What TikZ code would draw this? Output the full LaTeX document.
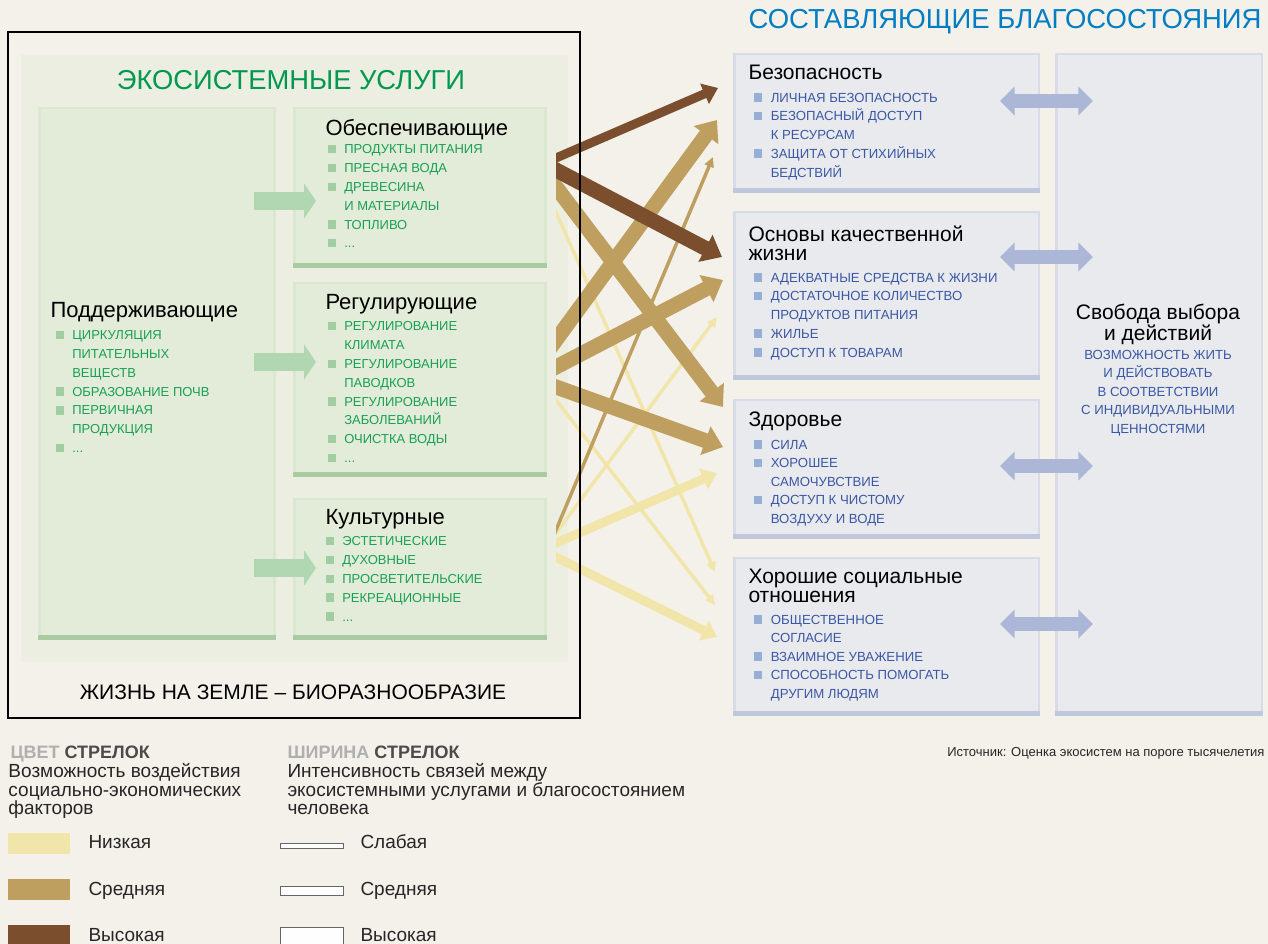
\documentclass[tikz,border=0pt]{standalone}
\usepackage{fontspec}
\setmainfont{Liberation Sans}
\usetikzlibrary{arrows.meta}

\definecolor{paper}{RGB}{243,241,234}
\definecolor{ecopanel}{RGB}{236,238,225}
\definecolor{svcfill}{RGB}{227,236,217}
\definecolor{svcband}{RGB}{168,203,162}
\definecolor{svcedge}{RGB}{218,232,209}
\definecolor{gtext}{RGB}{25,160,85}
\definecolor{gtitle}{RGB}{0,152,78}
\definecolor{gbul}{RGB}{160,205,162}
\definecolor{garrow}{RGB}{176,214,178}
\definecolor{wbfill}{RGB}{233,234,237}
\definecolor{wbband}{RGB}{190,199,220}
\definecolor{wbedge}{RGB}{215,220,232}
\definecolor{btext}{RGB}{58,88,165}
\definecolor{bbul}{RGB}{150,175,215}
\definecolor{barrow}{RGB}{172,182,214}
\definecolor{wbtitle}{RGB}{0,125,195}
\definecolor{highc}{RGB}{123,79,46}
\definecolor{medc}{RGB}{191,159,96}
\definecolor{lowc}{RGB}{241,229,170}
\definecolor{legdark}{RGB}{75,75,75}
\definecolor{leggrey}{RGB}{175,175,175}

\newcommand{\gsq}{{\color{gbul}\rule[0.3pt]{6.4pt}{6.4pt}}\hspace{6.2pt}}
\newcommand{\bsq}{{\color{bbul}\rule[0.3pt]{6.4pt}{6.4pt}}\hspace{6.6pt}}
\newcommand{\gind}{\hspace{12.6pt}}
\newcommand{\bind}{\hspace{13pt}}

\tikzset{every picture/.style={line width=0.75pt}}
\tikzset{
  gitems/.style={anchor=north west, inner sep=0pt, align=left, text=gtext, font=\fontsize{9.75pt}{14.1pt}\selectfont},
  bitems/.style={anchor=north west, inner sep=0pt, align=left, text=btext, font=\fontsize{9.9pt}{14.1pt}\selectfont},
  gboxtitle/.style={anchor=base west, inner sep=0pt, font=\fontsize{16.5pt}{18pt}\selectfont},
  wboxtitle/.style={anchor=north west, inner sep=0pt, align=left, font=\fontsize{15.75pt}{14.25pt}\selectfont},
  legtext/.style={anchor=north west, inner sep=0pt, align=left, text=black!85, font=\fontsize{14.25pt}{13.9pt}\selectfont},
  leglabel/.style={anchor=base west, inner sep=0pt, text=black!85, font=\fontsize{14.25pt}{16pt}\selectfont},
  leghead/.style={anchor=base west, inner sep=0pt, font=\fontsize{13.5pt}{16pt}\selectfont\bfseries},
  gblock/.style={draw=garrow, line width=14pt, -{Triangle[length=9pt,width=26pt]}},
  wdouble/.style={draw=barrow, line width=10pt, {Triangle[length=11pt,width=21pt]}-{Triangle[length=11pt,width=21pt]}},
  link/.style={shorten <=-14pt},
  highlink/.style={link, draw=highc, color=highc},
  medlink/.style={link, draw=medc, color=medc},
  lowlink/.style={link, draw=lowc, color=lowc},
  strongw/.style={line width=11.25pt, -{Triangle[length=14pt,width=22pt]}},
  midw/.style={line width=6.75pt, -{Triangle[length=11pt,width=16pt]}},
  weakw/.style={line width=2.6pt, -{Triangle[length=7.5pt,width=7pt]}}
}

\begin{document}
\begin{tikzpicture}[x=0.75pt,y=0.75pt,yscale=-1,xscale=1]
\useasboundingbox (0,0) rectangle (1268,944);
\fill[paper] (0,0) rectangle (1268,944);

%Shape: Rectangle [ecosystem services panel]
\fill[ecopanel] (21,55) rectangle (568,662);

%Shape: Rectangle [supporting]
\fill[svcedge] (38,107) rectangle (276,640);
\fill[svcfill] (41,109) rectangle (273,635);
\fill[svcband] (38,635) rectangle (276,640);
%Shape: Rectangle [provisioning]
\fill[svcedge] (293,107) rectangle (547,268);
\fill[svcfill] (296,109) rectangle (544,263);
\fill[svcband] (293,263) rectangle (547,268);
%Shape: Rectangle [regulating]
\fill[svcedge] (293,282) rectangle (547,477);
\fill[svcfill] (296,284) rectangle (544,472);
\fill[svcband] (293,472) rectangle (547,477);
%Shape: Rectangle [cultural]
\fill[svcedge] (293,498) rectangle (547,640);
\fill[svcfill] (296,500) rectangle (544,635);
\fill[svcband] (293,635) rectangle (547,640);

%Shape: Rectangle [security]
\fill[wbedge] (733,53) rectangle (1040,193);
\fill[wbfill] (736,55) rectangle (1038,188);
\fill[wbband] (733,188) rectangle (1040,193);
%Shape: Rectangle [basic material]
\fill[wbedge] (733,211) rectangle (1040,380);
\fill[wbfill] (736,213) rectangle (1038,375);
\fill[wbband] (733,375) rectangle (1040,380);
%Shape: Rectangle [health]
\fill[wbedge] (733,399) rectangle (1040,539);
\fill[wbfill] (736,401) rectangle (1038,534);
\fill[wbband] (733,534) rectangle (1040,539);
%Shape: Rectangle [social relations]
\fill[wbedge] (733,557) rectangle (1040,716);
\fill[wbfill] (736,559) rectangle (1038,711);
\fill[wbband] (733,711) rectangle (1040,716);
%Shape: Rectangle [freedom]
\fill[wbedge] (1055,53) rectangle (1263,716);
\fill[wbfill] (1058,55) rectangle (1261,711);
\fill[wbband] (1055,711) rectangle (1263,716);

% Arrow ends
\coordinate (supp-a) at (254,201);
\coordinate (supp-b) at (254,362);
\coordinate (supp-c) at (254,568);
\coordinate (prov-in) at (316,201);
\coordinate (reg-in) at (316,362);
\coordinate (cult-in) at (316,568);

\coordinate (prov-o1) at (556,158);
\coordinate (prov-o2) at (556,170);
\coordinate (prov-o3) at (556,187);
\coordinate (prov-o4) at (556,212);
\coordinate (reg-o1) at (556,340);
\coordinate (reg-o2) at (556,367);
\coordinate (reg-o3) at (556,387);
\coordinate (reg-o4) at (556,400);
\coordinate (cult-o1) at (556,530);
\coordinate (cult-o2) at (556,533);
\coordinate (cult-o3) at (556,543);
\coordinate (cult-o4) at (556,557);

\coordinate (secu-i1) at (718,88);
\coordinate (secu-i2) at (717,120);
\coordinate (secu-i3) at (713,157);
\coordinate (basic-i1) at (722,257);
\coordinate (basic-i2) at (723,280);
\coordinate (basic-i3) at (717,317);
\coordinate (health-i1) at (723,407);
\coordinate (health-i2) at (723,447);
\coordinate (health-i3) at (717,473);
\coordinate (social-i1) at (715,572);
\coordinate (social-i2) at (715,605);
\coordinate (social-i3) at (717,637);

\coordinate (secu-r) at (1000,101);
\coordinate (basic-r) at (1000,257);
\coordinate (health-r) at (1000,466);
\coordinate (social-r) at (1000,624);
\coordinate (free-a) at (1093,101);
\coordinate (free-b) at (1093,257);
\coordinate (free-c) at (1093,466);
\coordinate (free-d) at (1093,624);

%Block Arrows
\draw[gblock] (supp-a) -- (prov-in);
\draw[gblock] (supp-b) -- (reg-in);
\draw[gblock] (supp-c) -- (cult-in);

%Double Arrows
\draw[wdouble] (secu-r) -- (free-a);
\draw[wdouble] (basic-r) -- (free-b);
\draw[wdouble] (health-r) -- (free-c);
\draw[wdouble] (social-r) -- (free-d);

%Straight Lines [links]
\begin{scope}
\clip (556,0) rectangle (1268,944);
\draw[lowlink, weakw] (prov-o4) -- (social-i1);
\draw[lowlink, weakw] (reg-o4) -- (social-i2);
\draw[lowlink, weakw] (cult-o2) -- (basic-i3);
\draw[lowlink, midw] (cult-o3) -- (health-i3);
\draw[lowlink, midw] (cult-o4) -- (social-i3);
\draw[medlink, weakw] (cult-o1) -- (secu-i3);
\draw[medlink, strongw] (reg-o2) -- (basic-i2);
\draw[medlink, strongw] (reg-o3) -- (health-i2);
\draw[medlink, strongw] (prov-o3) -- (health-i1);
\draw[medlink, strongw] (reg-o1) -- (secu-i2);
\draw[highlink, midw] (prov-o1) -- (secu-i1);
\draw[highlink, strongw] (prov-o2) -- (basic-i1);
\end{scope}

%Shape: Rectangle [black frame]
\draw[line width=1.9pt] (8,32) rectangle (580,718);

% Text Node
\node[anchor=base east, inner sep=0pt, text=wbtitle, font=\fontsize{20.6pt}{24pt}\selectfont] (wbhead) at (1262,29) {СОСТАВЛЯЮЩИЕ БЛАГОСОСТОЯНИЯ};
% Text Node
\node[anchor=base, inner sep=0pt, text=gtitle, font=\fontsize{20.5pt}{24pt}\selectfont] (eshead) at (291,90) {ЭКОСИСТЕМНЫЕ УСЛУГИ};
% Text Node
\node[anchor=base, inner sep=0pt, font=\fontsize{15.75pt}{18pt}\selectfont] (life) at (293,699.5) {ЖИЗНЬ НА ЗЕМЛЕ – БИОРАЗНООБРАЗИЕ};

% Text Node
\node[gboxtitle] (supp-t) at (50,318) {Поддерживающие};
\node[gitems] (supp-l) at (55,330.3) {\gsq ЦИРКУЛЯЦИЯ\\ \gind ПИТАТЕЛЬНЫХ\\ \gind ВЕЩЕСТВ\\ \gsq ОБРАЗОВАНИЕ ПОЧВ\\ \gsq ПЕРВИЧНАЯ\\ \gind ПРОДУКЦИЯ\\ \gsq ...};
% Text Node
\node[gboxtitle] (prov-t) at (325,136) {Обеспечивающие};
\node[gitems] (prov-l) at (327,144.3) {\gsq ПРОДУКТЫ ПИТАНИЯ\\ \gsq ПРЕСНАЯ ВОДА\\ \gsq ДРЕВЕСИНА\\ \gind И МАТЕРИАЛЫ\\ \gsq ТОПЛИВО\\ \gsq ...};
% Text Node
\node[gboxtitle] (reg-t) at (325,310) {Регулирующие};
\node[gitems] (reg-l) at (327,321.3) {\gsq РЕГУЛИРОВАНИЕ\\ \gind КЛИМАТА\\ \gsq РЕГУЛИРОВАНИЕ\\ \gind ПАВОДКОВ\\ \gsq РЕГУЛИРОВАНИЕ\\ \gind ЗАБОЛЕВАНИЙ\\ \gsq ОЧИСТКА ВОДЫ\\ \gsq ...};
% Text Node
\node[gboxtitle] (cult-t) at (325,525) {Культурные};
\node[gitems] (cult-l) at (325,536.3) {\gsq ЭСТЕТИЧЕСКИЕ\\ \gsq ДУХОВНЫЕ\\ \gsq ПРОСВЕТИТЕЛЬСКИЕ\\ \gsq РЕКРЕАЦИОННЫЕ\\ \gsq ...};

% Text Node
\node[wboxtitle] (secu-t) at (748,64.5) {Безопасность};
\node[bitems] (secu-l) at (753,92.3) {\bsq ЛИЧНАЯ БЕЗОПАСНОСТЬ\\ \bsq БЕЗОПАСНЫЙ ДОСТУП\\ \bind К РЕСУРСАМ\\ \bsq ЗАЩИТА ОТ СТИХИЙНЫХ\\ \bind БЕДСТВИЙ};
% Text Node
\node[wboxtitle] (basic-t) at (748,225.5) {Основы качественной\\жизни};
\node[bitems] (basic-l) at (753,272.3) {\bsq АДЕКВАТНЫЕ СРЕДСТВА К ЖИЗНИ\\ \bsq ДОСТАТОЧНОЕ КОЛИЧЕСТВО\\ \bind ПРОДУКТОВ ПИТАНИЯ\\ \bsq ЖИЛЬЕ\\ \bsq ДОСТУП К ТОВАРАМ};
% Text Node
\node[wboxtitle] (health-t) at (748,411.5) {Здоровье};
\node[bitems, font=\fontsize{9.9pt}{13.9pt}\selectfont] (health-l) at (753,439.3) {\bsq СИЛА\\ \bsq ХОРОШЕЕ\\ \bind САМОЧУВСТВИЕ\\ \bsq ДОСТУП К ЧИСТОМУ\\ \bind ВОЗДУХУ И ВОДЕ};
% Text Node
\node[wboxtitle] (social-t) at (748,568.5) {Хорошие социальные\\отношения};
\node[bitems, font=\fontsize{9.9pt}{13.9pt}\selectfont] (social-l) at (753,614.3) {\bsq ОБЩЕСТВЕННОЕ\\ \bind СОГЛАСИЕ\\ \bsq ВЗАИМНОЕ УВАЖЕНИЕ\\ \bsq СПОСОБНОСТЬ ПОМОГАТЬ\\ \bind ДРУГИМ ЛЮДЯМ};
% Text Node
\node[anchor=north, inner sep=0pt, align=center, font=\fontsize{15.75pt}{13.5pt}\selectfont] (free-t) at (1158,303.5) {Свобода выбора\\и действий};
\node[anchor=north, inner sep=0pt, align=center, text=btext, font=\fontsize{9.9pt}{13.9pt}\selectfont] (free-l) at (1158,349.3) {ВОЗМОЖНОСТЬ ЖИТЬ\\И ДЕЙСТВОВАТЬ\\В СООТВЕТСТВИИ\\С ИНДИВИДУАЛЬНЫМИ\\ЦЕННОСТЯМИ};

% Text Node
\node[anchor=base east, inner sep=0pt, text=black!85, font=\fontsize{9.75pt}{12pt}\selectfont] (source) at (1265,756.7) {Источник: Оценка экосистем на пороге тысячелетия};

% Legend: colour
\node[leghead] (colhead) at (10,758.5) {\textcolor{leggrey}{ЦВЕТ} \textcolor{legdark}{СТРЕЛОК}};
\node[legtext] (coltext) at (8,763.2) {Возможность воздействия\\социально-экономических\\факторов};
\fill[lowc] (8,833) rectangle (70,854);
\fill[medc] (8,879) rectangle (70,900);
\fill[highc] (8,925) rectangle (70,944);
\node[leglabel] (col-low) at (88,848.8) {Низкая};
\node[leglabel] (col-med) at (88,895.8) {Средняя};
\node[leglabel] (col-high) at (88,941.8) {Высокая};

% Legend: width
\node[leghead] (widhead) at (287,758.5) {\textcolor{leggrey}{ШИРИНА} \textcolor{legdark}{СТРЕЛОК}};
\node[legtext] (widtext) at (287,763.2) {Интенсивность связей между\\экосистемными услугами и благосостоянием\\человека};
\draw[draw=black!60, fill=white!95!paper] (280,843) rectangle (343,848);
\draw[draw=black!60, fill=white!95!paper] (280,886) rectangle (343,895);
\draw[draw=black!60, fill=white!95!paper] (280,927) rectangle (343,948);
\node[leglabel] (wid-low) at (360,848.8) {Слабая};
\node[leglabel] (wid-med) at (360,895.8) {Средняя};
\node[leglabel] (wid-high) at (360,941.8) {Высокая};

\end{tikzpicture}
\end{document}
